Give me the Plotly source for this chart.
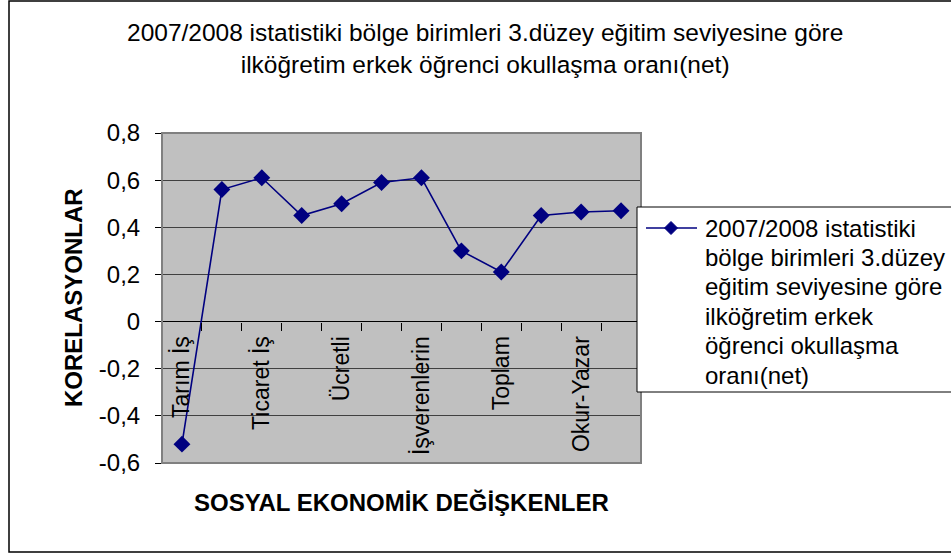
import plotly.graph_objects as go

# Correlation of each socio-economic variable with the net enrolment ratio
positions = list(range(1, 13))
korelasyon = [-0.52, 0.56, 0.61, 0.45, 0.50, 0.59, 0.61, 0.30, 0.21, 0.45, 0.465, 0.47]

x_label_positions = [1, 3, 5, 7, 9, 11]
x_labels = ["Tarım İş", "Ticaret İş", "Ücretli", "İşverenlerin", "Toplam", "Okur-Yazar"]

y_tickvals = [-0.6, -0.4, -0.2, 0, 0.2, 0.4, 0.6, 0.8]
y_ticktext = ["-0,6", "-0,4", "-0,2", "0", "0,2", "0,4", "0,6", "0,8"]

series_lines = ["2007/2008 istatistiki", "bölge birimleri 3.düzey", "eğitim seviyesine göre",
                "ilköğretim erkek", "öğrenci okullaşma", "oranı(net)"]
chart_title = ("2007/2008 istatistiki bölge birimleri 3.düzey eğitim seviyesine göre"
               "<br>ilköğretim erkek öğrenci okullaşma oranı(net)")

FONT = "Liberation Sans, Arial, sans-serif"
NAVY = "#000080"
W, H = 951, 556
L, R, T, B = 162, 310, 133, 93
pw, ph = W - L - R, H - T - B


def px(x):
    return (x - L) / pw


def py(y):
    return (H - B - y) / ph


fig = go.Figure()
fig.add_trace(go.Scatter(
    x=positions, y=korelasyon, mode="lines+markers", name=" ".join(series_lines),
    line=dict(color=NAVY, width=1.6),
    marker=dict(symbol="diamond", size=13, color=NAVY),
    showlegend=False,
))

zero_pos = (0 - y_tickvals[0]) / (y_tickvals[-1] - y_tickvals[0])

fig.update_layout(
    width=W, height=H,
    margin=dict(l=L, r=R, t=T, b=B, autoexpand=False),
    paper_bgcolor="white", plot_bgcolor="#c0c0c0",
    font=dict(family=FONT, size=24, color="black"),
    xaxis=dict(
        range=[0.5, 12.5], anchor="free", position=zero_pos,
        tickmode="array", tickvals=x_label_positions, ticktext=x_labels,
        tickangle=-90, ticks="", showgrid=False, showline=False, zeroline=False,
        tickfont=dict(size=23), ticklabelstandoff=9,
        minor=dict(tick0=0.5, dtick=1, ticks="outside", ticklen=8,
                   tickcolor="black", tickwidth=1, showgrid=False),
    ),
    yaxis=dict(
        range=[-0.6, 0.8], tickmode="array", tickvals=y_tickvals, ticktext=y_ticktext,
        ticks="outside", ticklen=6, tickcolor="black", tickwidth=1,
        showline=True, linecolor="black", linewidth=1,
        showgrid=True, gridcolor="#404040", gridwidth=1,
        zeroline=True, zerolinecolor="black", zerolinewidth=1.2,
        tickfont=dict(size=24), ticklabelstandoff=10,
    ),
    showlegend=False,
)

# plot-area border (right, top, bottom in grey)
fig.add_shape(type="rect", xref="paper", yref="paper", x0=0, x1=1, y0=0, y1=1,
              line=dict(color="#808080", width=2), layer="above")
# outer chart frame
fig.add_shape(type="rect", xref="paper", yref="paper",
              x0=px(9), x1=px(960), y0=py(552), y1=py(1),
              line=dict(color="black", width=1.5))

# legend box, running off the right edge of the chart
fig.add_shape(type="rect", xref="paper", yref="paper",
              x0=px(637), x1=px(975), y0=py(392), y1=py(207),
              line=dict(color="black", width=1), fillcolor="white", layer="above")
legend_y = 228
fig.add_shape(type="line", xref="paper", yref="paper",
              x0=px(646), x1=px(697), y0=py(legend_y), y1=py(legend_y),
              line=dict(color=NAVY, width=1.6), layer="above")
fig.add_shape(type="path", xref="paper", yref="paper",
              xsizemode="pixel", ysizemode="pixel",
              xanchor=px(671), yanchor=py(legend_y),
              path="M 0 6.5 L 6.5 0 L 0 -6.5 L -6.5 0 Z",
              fillcolor=NAVY, line=dict(color=NAVY, width=1), layer="above")
for i, line_text in enumerate(series_lines):
    fig.add_annotation(text=line_text, xref="paper", yref="paper",
                       x=px(703), y=py(legend_y + i * 29.4),
                       xanchor="left", yanchor="middle", showarrow=False,
                       font=dict(size=24))

fig.add_annotation(text=chart_title, xref="paper", yref="paper",
                   x=px(485), y=py(49), xanchor="center", yanchor="middle",
                   showarrow=False, font=dict(size=24.5), align="center")
fig.add_annotation(text="<b>SOSYAL EKONOMİK DEĞİŞKENLER</b>", xref="paper", yref="paper",
                   x=0.5, y=py(503), xanchor="center", yanchor="middle",
                   showarrow=False, font=dict(size=24))
fig.add_annotation(text="<b>KORELASYONLAR</b>", xref="paper", yref="paper",
                   x=px(73), y=0.5, xanchor="center", yanchor="middle", textangle=-90,
                   showarrow=False, font=dict(size=24))

fig.write_html("out.html")
